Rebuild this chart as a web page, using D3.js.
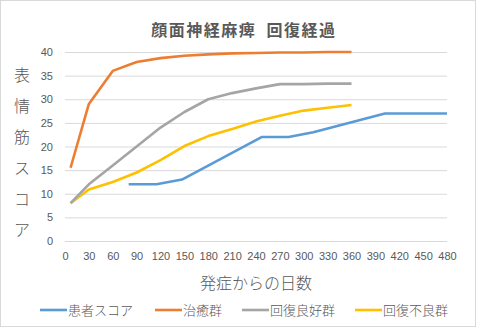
<!DOCTYPE html>
<html><head><meta charset="utf-8">
<script src="https://cdn.jsdelivr.net/npm/d3@7"></script>
<style>body{margin:0;background:#fff}svg{display:block}text{font-family:"Noto Sans CJK JP","Noto Sans",sans-serif}</style>
</head><body><svg id="c" width="480" height="328"></svg>
<script>
const title = "顔面神経麻痺  回復経過";
const yTitle = ["表","情","筋","ス","コ","ア"];
const xTitle = "発症からの日数";
const xTicks = [0,30,60,90,120,150,180,210,240,270,300,330,360,390,420,450,480];
const yTicks = [0,5,10,15,20,25,30,35,40];
const seriesNames = ["患者スコア","治癒群","回復良好群","回復不良群"];
const seriesColors = ["#5B9BD5","#ED7D31","#A5A5A5","#FFC000"];
const patientDays = [80,115,147,247,281,312,402,480];
const patientScore = [12,12,13,22,22,23,27,27];
const groupDays = [7,30,60,90,120,150,180,210,240,270,300,330,360];
const cured = [15.5,29,36,37.9,38.7,39.2,39.5,39.7,39.8,39.9,39.9,40,40];
const good = [8,12,16,20,24,27.3,30,31.3,32.3,33.2,33.2,33.3,33.3];
const poor = [8,10.9,12.5,14.5,17.1,20.1,22.2,23.7,25.3,26.5,27.6,28.2,28.8];

const svg = d3.select("#c");
svg.append("rect").attr("x",0.5).attr("y",0.5).attr("width",475).attr("height",326)
  .attr("fill","#fff").attr("stroke","#d9d9d9");
const x = d3.scaleLinear().domain([0,480]).range([65,447]);
const y = d3.scaleLinear().domain([0,40]).range([241,52]);

const grid = svg.append("g").call(d3.axisLeft(y).tickValues(yTicks).tickSize(-(447-65)).tickFormat(""))
  .attr("transform","translate(65,0)");
grid.select(".domain").remove();
grid.selectAll("line").attr("stroke","#d9d9d9").attr("stroke-width",1);

const ya = svg.append("g").attr("transform","translate(65,0)")
  .call(d3.axisLeft(y).tickValues(yTicks).tickSize(0).tickPadding(12));
ya.select(".domain").remove();
ya.selectAll("text").attr("fill","#595959").style("font-size","11px").style("font-family","Liberation Sans, Arial, sans-serif");

const xa = svg.append("g").attr("transform","translate(0,241)")
  .call(d3.axisBottom(x).tickValues(xTicks).tickSize(0).tickPadding(11));
xa.select(".domain").remove();
xa.selectAll("text").attr("fill","#595959").style("font-size","11px").style("font-family","Liberation Sans, Arial, sans-serif");

const line = d3.line().x(d=>x(d[0])).y(d=>y(d[1]));
const data = [
  d3.zip(patientDays, patientScore),
  d3.zip(groupDays, cured),
  d3.zip(groupDays, good),
  d3.zip(groupDays, poor)
];
[3,2,1,0].forEach(i=>{
  svg.append("path").datum(data[i]).attr("d",line).attr("fill","none")
    .attr("stroke",seriesColors[i]).attr("stroke-width",2.6).attr("stroke-linejoin","round");
});

svg.append("text").attr("x",244).attr("y",36).attr("text-anchor","middle")
  .attr("fill","#595959").style("font-size","16px").style("font-weight","bold")
  .style("letter-spacing","1.5px").style("white-space","pre").text(title);

yTitle.forEach((ch,i)=>{
  svg.append("text").attr("x",22).attr("y",81+i*31).attr("text-anchor","middle")
    .attr("fill","#595959").style("font-size","16px").style("font-weight","300").text(ch);
});
svg.append("text").attr("x",256).attr("y",289).attr("text-anchor","middle")
  .attr("fill","#595959").style("font-size","16px").style("font-weight","300").text(xTitle);

const legX = [40,155,242,355];
seriesNames.forEach((n,i)=>{
  svg.append("line").attr("x1",legX[i]).attr("x2",legX[i]+27).attr("y1",310).attr("y2",310)
    .attr("stroke",seriesColors[i]).attr("stroke-width",2.6);
  svg.append("text").attr("x",legX[i]+28).attr("y",315).attr("fill","#595959")
    .style("font-size","13px").style("font-weight","300").text(n);
});
</script></body></html>
